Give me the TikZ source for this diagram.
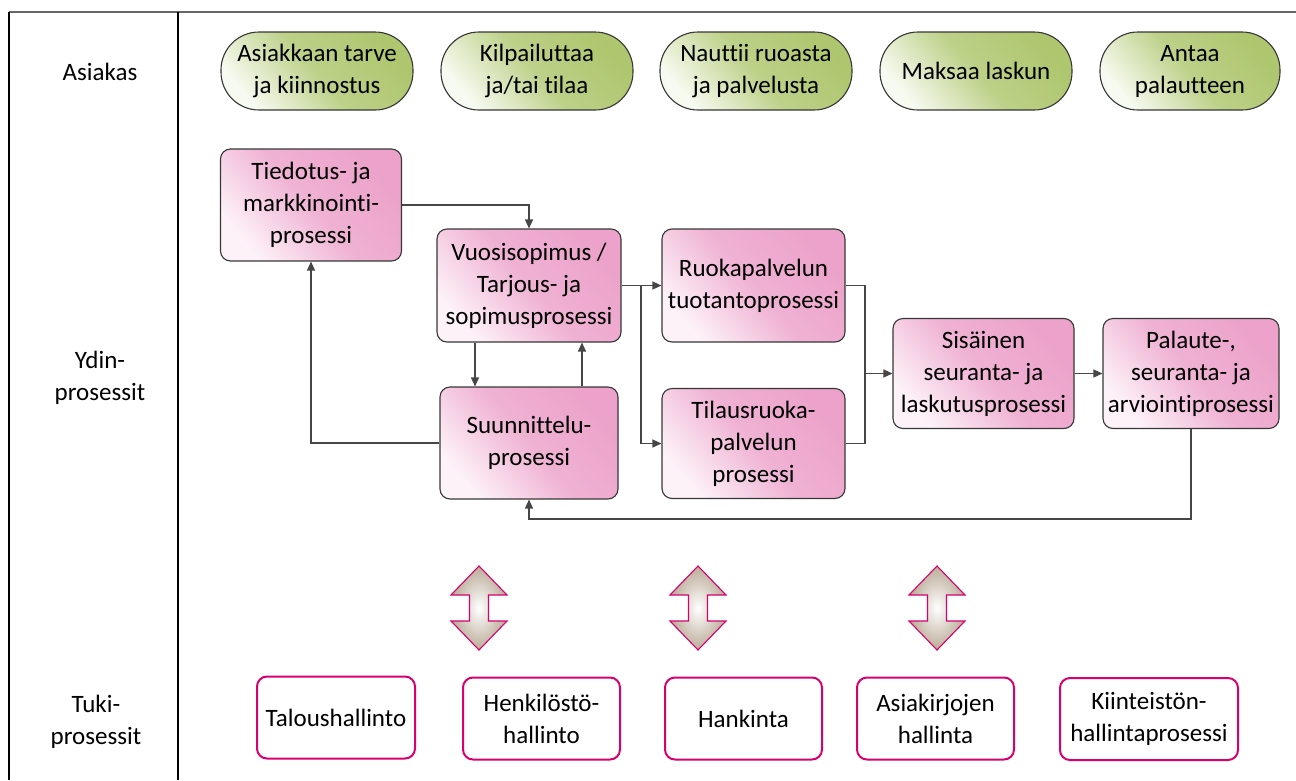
\documentclass[tikz,border=0pt]{standalone}
\usepackage{fontspec}
\setmainfont{Carlito}[RawFeature=-liga]
\usetikzlibrary{arrows.meta,calc}
\definecolor{pillG}{RGB}{174,198,110}
\definecolor{pillL}{RGB}{247,250,240}
\definecolor{pinkD}{RGB}{236,162,202}
\definecolor{pinkL}{RGB}{253,242,248}
\definecolor{mag}{RGB}{214,0,110}
\definecolor{tan}{RGB}{186,172,152}
\definecolor{edge}{RGB}{55,55,55}
\definecolor{conn}{RGB}{70,70,70}
\tikzset{
  txt/.style={font=\fontsize{25}{32}\selectfont, align=center, text=black},
  lanelabel/.style={txt},
  pill/.style={txt, draw=edge, line width=1.1pt, rounded corners=38pt,
    minimum width=192pt, minimum height=78pt, inner sep=1pt,
    top color=pillG, bottom color=pillL, middle color=pillG!80!pillL, shading angle=-50},
  core/.style={txt, draw=edge, line width=1.1pt, rounded corners=10pt,
    minimum width=181pt, minimum height=112pt, inner sep=1pt,
    top color=pinkD, bottom color=pinkL, middle color=pinkD!80!pinkL, shading angle=-50},
  support/.style={txt, draw=mag, line width=2pt, rounded corners=10pt,
    minimum width=158pt, minimum height=82pt, inner sep=1pt, fill=white},
  conline/.style={draw=conn, line width=1.2pt},
  arr/.style={conline, -{Triangle[length=9pt,width=8pt]}},
  dblarrow/.pic={
    \path[draw=mag, line width=1.1pt, inner color=white, outer color=tan]
      (0,-42) -- (28,-13) -- (9.5,-13) -- (9.5,13) -- (28,13) -- (0,42)
      -- (-28,13) -- (-9.5,13) -- (-9.5,-13) -- (-28,-13) -- cycle;
  }
}
\begin{document}
\begin{tikzpicture}[x=1pt,y=-1pt]
\useasboundingbox (0,0) rectangle (1296,780);
% frame
\draw[draw=black!60, line width=1.2pt] (9,12) -- (1296,12);
\draw[draw=black, line width=1.2pt] (9,12) -- (9,780);
\draw[draw=black, line width=1.2pt] (178,12) -- (178,780);
% lane labels
\node[lanelabel] (lA) at (100,72) {Asiakas};
\node[lanelabel] (lY) at (100,378) {Ydin-\\prosessit};
\node[lanelabel] (lT) at (96,722) {Tuki-\\prosessit};
% customer pills
\node[pill] (p1) at (317,71) {Asiakkaan tarve\\ja kiinnostus};
\node[pill] (p2) at (537,71) {Kilpailuttaa\\ja/tai tilaa};
\node[pill] (p3) at (756,71) {Nauttii ruoasta\\ja palvelusta};
\node[pill] (p4) at (976,71) {Maksaa laskun};
\node[pill, minimum width=180pt] (p5) at (1190,71) {Antaa\\palautteen};
% core processes
\node[core] (tied) at (311,205) {Tiedotus- ja\\markkinointi-\\prosessi};
\node[core, minimum width=184pt, minimum height=113pt] (vuosi) at (529,285.5) {Vuosisopimus /\\Tarjous- ja\\sopimusprosessi};
\node[core, minimum width=178pt] (suun) at (529,443) {Suunnittelu-\\prosessi};
\node[core, minimum width=183pt, minimum height=113pt] (ruoka) at (753.5,285.5) {Ruokapalvelun\\tuotantoprosessi};
\node[core, minimum width=183pt, minimum height=110pt] (tila) at (753.5,443.5) {Tilausruoka-\\palvelun\\prosessi};
\node[core, minimum height=110pt] (sis) at (983.5,373.5) {Sisäinen\\seuranta- ja\\laskutusprosessi};
\node[core, minimum width=176pt, minimum height=110pt] (pal) at (1191,373.5) {Palaute-,\\seuranta- ja\\arviointiprosessi};
% connectors
\coordinate (xdown) at (475,0);
\coordinate (xup) at (582,0);
\coordinate (br) at (641,285.5);
\coordinate (mj) at (865,373.5);
\coordinate (fb) at (0,519);
\draw[arr] (tied.east) -| (vuosi.north);
\draw[arr] (suun.west) -| (tied.south);
\draw[arr] (vuosi.south -| xdown) -- (suun.north -| xdown);
\draw[arr] (suun.north -| xup) -- (vuosi.south -| xup);
\draw[arr] (vuosi.east) -- (ruoka.west);
\draw[arr] (br) |- (tila.west);
\draw[conline] (ruoka.east) -| (mj);
\draw[conline] (tila.east) -| (mj);
\draw[arr] (mj) -- (sis.west);
\draw[arr] (sis.east) -- (pal.west);
\draw[arr] (pal.south) -- (pal.south |- fb) -| (suun.south);
% double arrows
\pic at (479,608) {dblarrow};
\pic at (698,608) {dblarrow};
\pic at (937,608) {dblarrow};
% support processes
\node[support] (s1) at (336,717.5) {Taloushallinto};
\node[support, minimum width=157pt] (s2) at (541.5,718.5) {Henkilöstö-\\hallinto};
\node[support, minimum width=157pt] (s3) at (743.5,718.5) {Hankinta};
\node[support, minimum width=157pt] (s4) at (935.5,718.5) {Asiakirjojen\\hallinta};
\node[support, minimum width=178pt] (s5) at (1149,719) {Kiinteistön-\\hallintaprosessi};
\end{tikzpicture}
\end{document}
